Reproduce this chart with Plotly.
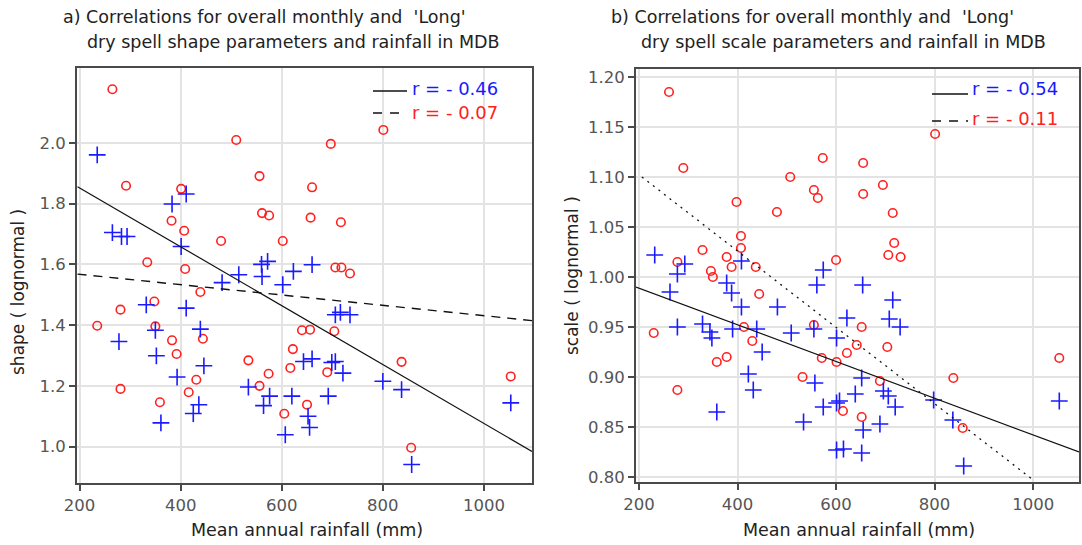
import plotly.graph_objects as go

# ---- panel a: shape parameter vs mean annual rainfall ----
shape_all_x = [265, 510, 292, 401, 556, 561, 575, 382, 407, 480, 602, 334, 409, 660, 657, 717,
               697, 801, 706, 718, 735, 439, 348, 281, 235, 350, 383, 444, 392, 534, 574, 431,
               556, 281, 416, 359, 605, 617, 622, 640, 656, 704, 650, 690, 837, 1053, 856]
shape_all_y = [2.177, 2.01, 1.859, 1.849, 1.891, 1.769, 1.761, 1.744, 1.711, 1.677, 1.677, 1.607,
               1.585, 1.854, 1.754, 1.739, 1.997, 2.043, 1.59, 1.59, 1.57, 1.509, 1.478, 1.451,
               1.398, 1.396, 1.35, 1.355, 1.305, 1.284, 1.24, 1.22, 1.2, 1.19, 1.179, 1.146,
               1.108, 1.259, 1.321, 1.383, 1.385, 1.38, 1.138, 1.245, 1.279, 1.231, 0.996]

shape_long_x = [235, 383, 411, 265, 283, 294, 401, 560, 572, 660, 623, 515, 561, 482, 602, 332,
                411, 439, 350, 278, 352, 446, 393, 534, 576, 564, 620, 436, 425, 361, 607, 643,
                660, 652, 655, 706, 716, 735, 699, 706, 721, 692, 800, 837, 1053, 857]
shape_long_y = [1.961, 1.799, 1.832, 1.705, 1.692, 1.692, 1.659, 1.60, 1.61, 1.599, 1.577, 1.566,
                1.56, 1.54, 1.533, 1.467, 1.456, 1.387, 1.383, 1.346, 1.299, 1.266, 1.229, 1.196,
                1.166, 1.135, 1.166, 1.138, 1.109, 1.078, 1.039, 1.28, 1.289, 1.10, 1.063, 1.434,
                1.442, 1.434, 1.277, 1.28, 1.242, 1.166, 1.215, 1.1875, 1.144, 0.941]

# fitted lines (end points in data units)
shape_fit_long_x = [196, 1095]
shape_fit_long_y = [1.856, 0.984]
shape_fit_all_x = [196, 1095]
shape_fit_all_y = [1.568, 1.415]

# ---- panel b: scale parameter vs mean annual rainfall ----
scale_all_x = [261, 290, 398, 507, 573, 555, 563, 480, 407, 407, 329, 378, 388, 278, 437, 346,
               350, 600, 801, 655, 695, 655, 715, 718, 706, 731, 230, 278, 358, 378, 413, 430,
               444, 532, 555, 571, 601, 652, 704, 689, 642, 622, 614, 652, 838, 857, 1053]
scale_all_y = [1.185, 1.109, 1.075, 1.100, 1.119, 1.087, 1.079, 1.065, 1.041, 1.029, 1.027, 1.020,
               1.010, 1.015, 1.010, 1.006, 1.0, 1.017, 1.143, 1.114, 1.092, 1.083, 1.064, 1.034,
               1.022, 1.020, 0.944, 0.887, 0.915, 0.920, 0.950, 0.936, 0.983, 0.900, 0.952, 0.919,
               0.915, 0.950, 0.930, 0.896, 0.932, 0.924, 0.866, 0.860, 0.899, 0.849, 0.919]

scale_long_x = [232, 278, 293, 263, 408, 574, 278, 329, 344, 348, 358, 378, 388, 408, 390, 439,
                450, 422, 432, 481, 509, 534, 561, 555, 557, 574, 601, 601, 654, 622, 601, 715,
                708, 730, 652, 639, 607, 696, 706, 720, 689, 655, 615, 652, 798, 837, 859, 1053]
scale_long_y = [1.022, 1.003, 1.013, 0.985, 1.016, 1.007, 0.950, 0.953, 0.945, 0.939, 0.865, 0.994,
                0.984, 0.970, 0.948, 0.948, 0.925, 0.903, 0.887, 0.970, 0.944, 0.855, 0.992, 0.948,
                0.894, 0.870, 0.874, 0.827, 0.992, 0.959, 0.939, 0.977, 0.958, 0.950, 0.899, 0.883,
                0.876, 0.886, 0.881, 0.870, 0.853, 0.847, 0.828, 0.824, 0.877, 0.857, 0.811, 0.876]

scale_fit_long_x = [194, 1093]
scale_fit_long_y = [0.990, 0.825]
scale_fit_all_x = [206, 1000]
scale_fit_all_y = [1.100, 0.797]

r_labels_a = ["r = - 0.46", "r = - 0.07"]
r_labels_b = ["r = - 0.54", "r = - 0.11"]

x_ticks = [200, 400, 600, 800, 1000]
shape_ticks = [1.0, 1.2, 1.4, 1.6, 1.8, 2.0]
scale_ticks = [0.80, 0.85, 0.90, 0.95, 1.00, 1.05, 1.10, 1.15, 1.20]

RED = "#ff2020"
BLUE = "#1a1aff"
FONT = "DejaVu Sans"
TXT = "#222222"
TICK = "#555555"

fig = go.Figure()

circle = dict(symbol="circle-open", size=8.5, color=RED, line=dict(width=1.6, color=RED))
cross = dict(symbol="cross-thin-open", size=12, color=BLUE, line=dict(width=1.6, color=BLUE))

# panel a
fig.add_trace(go.Scatter(x=shape_all_x, y=shape_all_y, mode="markers", marker=circle,
                         xaxis="x", yaxis="y", showlegend=False, cliponaxis=True))
fig.add_trace(go.Scatter(x=shape_long_x, y=shape_long_y, mode="markers", marker=cross,
                         xaxis="x", yaxis="y", showlegend=False, cliponaxis=True))
fig.add_trace(go.Scatter(x=shape_fit_long_x, y=shape_fit_long_y, mode="lines",
                         line=dict(color="#111111", width=1.2), xaxis="x", yaxis="y",
                         showlegend=False))
fig.add_trace(go.Scatter(x=shape_fit_all_x, y=shape_fit_all_y, mode="lines",
                         line=dict(color="#111111", width=1.4, dash="9px,7px"),
                         xaxis="x", yaxis="y", showlegend=False))

# panel b
fig.add_trace(go.Scatter(x=scale_all_x, y=scale_all_y, mode="markers", marker=circle,
                         xaxis="x2", yaxis="y2", showlegend=False, cliponaxis=True))
fig.add_trace(go.Scatter(x=scale_long_x, y=scale_long_y, mode="markers", marker=cross,
                         xaxis="x2", yaxis="y2", showlegend=False, cliponaxis=True))
fig.add_trace(go.Scatter(x=scale_fit_long_x, y=scale_fit_long_y, mode="lines",
                         line=dict(color="#111111", width=1.2), xaxis="x2", yaxis="y2",
                         showlegend=False))
fig.add_trace(go.Scatter(x=scale_fit_all_x, y=scale_fit_all_y, mode="lines",
                         line=dict(color="#111111", width=1.3, dash="2px,5px"),
                         xaxis="x2", yaxis="y2", showlegend=False))

W, H = 1082, 545


def px(xp):
    return xp / W


def py(yp):
    return 1 - yp / H


axis_common = dict(
    showline=True, linecolor="#4a4a4a", linewidth=2, mirror=True,
    showgrid=True, gridcolor="#e3e3e3", gridwidth=1.5,
    ticks="outside", ticklen=6, tickwidth=1.5, tickcolor="#4a4a4a",
    tickfont=dict(family=FONT, size=16.5, color=TICK), zeroline=False,
    automargin=False,
)

fig.update_layout(
    width=W, height=H, margin=dict(l=0, r=0, t=0, b=0, autoexpand=False),
    paper_bgcolor="white", plot_bgcolor="white", showlegend=False,
    xaxis=dict(axis_common, domain=[px(77), px(532)], range=[195, 1095],
               tickvals=x_ticks, ticktext=[str(v) for v in x_ticks], anchor="y"),
    yaxis=dict(axis_common, domain=[py(483), py(68)], range=[0.88, 2.247],
               tickvals=shape_ticks, ticktext=[f"{v:.1f}" for v in shape_ticks], anchor="x"),
    xaxis2=dict(axis_common, domain=[px(636), px(1079)], range=[194, 1093],
                tickvals=x_ticks, ticktext=[str(v) for v in x_ticks], anchor="y2"),
    yaxis2=dict(axis_common, domain=[py(482), py(69)], range=[0.795, 1.208],
                tickvals=scale_ticks, ticktext=[f"{v:.2f}" for v in scale_ticks], anchor="x2"),
)

ann = []


def text(x, y, s, size=15, color=TXT, xanchor="left", angle=0):
    ann.append(dict(xref="paper", yref="paper", x=px(x), y=py(y), text=s, showarrow=False,
                    xanchor=xanchor, yanchor="middle", textangle=angle, borderpad=0,
                    font=dict(family=FONT, size=size, color=color)))


# titles
text(62, 17, "a) Correlations for overall monthly and  'Long'", 17.5)
text(86, 42, "dry spell shape parameters and rainfall in MDB", 17.5)
text(610, 17, "b) Correlations for overall monthly and  'Long'", 17.5)
text(640, 42, "dry spell scale parameters and rainfall in MDB", 17.5)

# axis titles
text(307, 530, "Mean annual rainfall (mm)", 17.5, xanchor="center")
text(859, 530, "Mean annual rainfall (mm)", 17.5, xanchor="center")
text(18, 292, "shape ( lognormal )", 17, xanchor="center", angle=-90)
text(572, 276, "scale ( lognormal )", 17, xanchor="center", angle=-90)

# correlation key
text(411, 89, r_labels_a[0], 18, BLUE)
text(411, 112, r_labels_a[1], 18, RED)
text(971, 89, r_labels_b[0], 18, BLUE)
text(971, 118, r_labels_b[1], 18, RED)

shapes = [
    dict(type="line", xref="paper", yref="paper", x0=px(373), x1=px(407), y0=py(91), y1=py(91),
         line=dict(color="#111111", width=1.5)),
    dict(type="line", xref="paper", yref="paper", x0=px(373), x1=px(407), y0=py(113), y1=py(113),
         line=dict(color="#111111", width=1.5, dash="9px,8px")),
    dict(type="line", xref="paper", yref="paper", x0=px(932), x1=px(968), y0=py(94), y1=py(94),
         line=dict(color="#111111", width=1.5)),
    dict(type="line", xref="paper", yref="paper", x0=px(932), x1=px(968), y0=py(121), y1=py(121),
         line=dict(color="#111111", width=1.5, dash="9px,8px")),
]

fig.update_layout(annotations=ann, shapes=shapes)

fig.write_html("out.html")
